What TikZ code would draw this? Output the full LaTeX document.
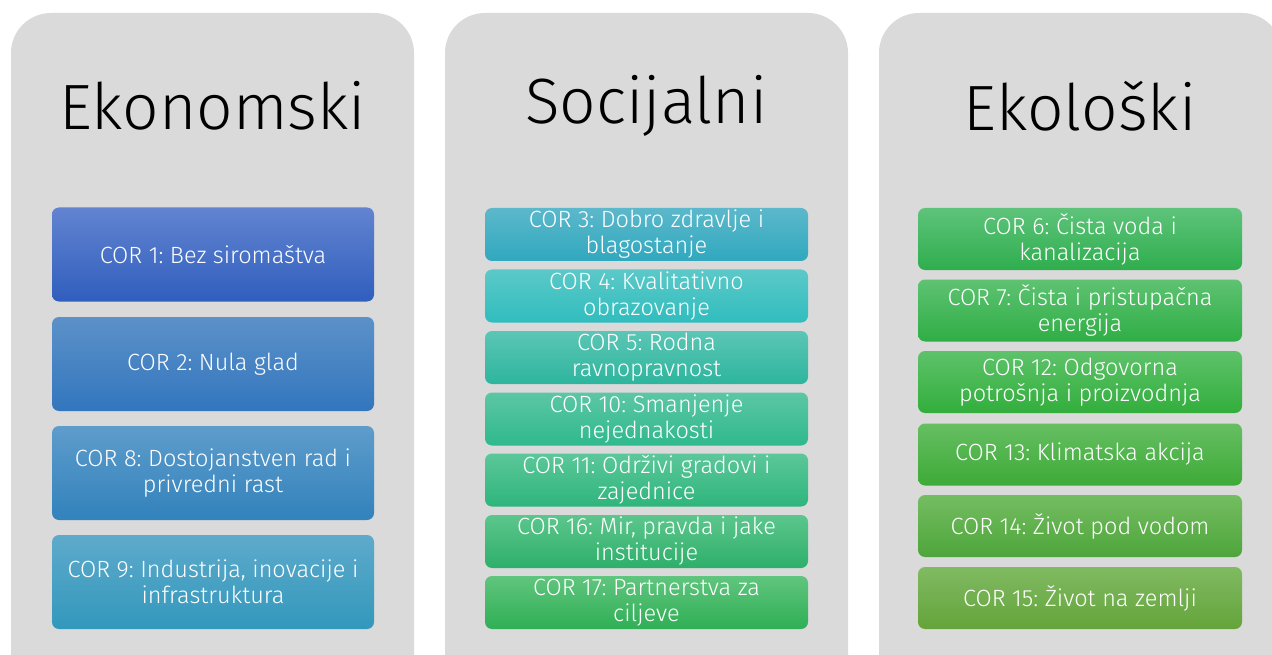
\documentclass[tikz,border=0pt]{standalone}
\usepackage{fontspec}
\setmainfont{Fira Sans}[UprightFont=* Light]
\frenchspacing
\begin{document}
\begin{tikzpicture}[x=1pt,y=-1pt,
  panel/.style={fill=panelgrey, draw=none, rounded corners=40pt},
  title/.style={font=\fontsize{64}{70}\selectfont, text=black, anchor=center},
  cor/.style={rounded corners=7pt, text=white, align=center, inner sep=0pt,
    font=\fontsize{23.5}{26}\selectfont, draw=none},
  ebox/.style={cor, minimum width=322pt, minimum height=94pt},
  sbox/.style={cor, minimum width=323pt, minimum height=53pt},
  kbox/.style={cor, minimum width=324pt, minimum height=62pt}]
\definecolor{panelgrey}{HTML}{DADADA}
\useasboundingbox (0,0) rectangle (1272,655);
\clip (0,0) rectangle (1272,655);
\fill[white] (0,0) rectangle (1272,655);
\path[panel] (11,13) rectangle (414,700);
\path[panel] (445,13) rectangle (848,700);
\path[panel] (879,13) rectangle (1282,700);
\node[title] (t1) at (212.5,106) {Ekonomski};
\node[title] (t2) at (646.5,106) {Socijalni};
\node[title] (t3) at (1080,106) {Ekološki};
% Ekonomski
\node[ebox, top color={rgb,255:red,98;green,132;blue,208}, bottom color={rgb,255:red,48;green,94;blue,190}] (c1) at (213,254.5) {COR 1: Bez siromaštva};
\node[ebox, top color={rgb,255:red,92;green,145;blue,201}, bottom color={rgb,255:red,50;green,118;blue,190}] (c2) at (213,364) {COR 2: Nula glad};
\node[ebox, top color={rgb,255:red,94;green,156;blue,203}, bottom color={rgb,255:red,50;green,130;blue,188}] (c8) at (213,473) {COR 8: Dostojanstven rad i\\privredni rast};
\node[ebox, top color={rgb,255:red,94;green,170;blue,203}, bottom color={rgb,255:red,50;green,152;blue,188}] (c9) at (213,582) {COR 9: Industrija, inovacije i\\infrastruktura};
% Socijalni
\node[sbox, top color={rgb,255:red,92;green,184;blue,203}, bottom color={rgb,255:red,48;green,168;blue,190}] (c3) at (646.5,234.5) {COR 3: Dobro zdravlje i\\blagostanje};
\node[sbox, top color={rgb,255:red,92;green,200;blue,200}, bottom color={rgb,255:red,48;green,189;blue,190}] (c4) at (646.5,296) {COR 4: Kvalitativno\\obrazovanje};
\node[sbox, top color={rgb,255:red,92;green,198;blue,181}, bottom color={rgb,255:red,45;green,181;blue,158}] (c5) at (646.5,357.5) {COR 5: Rodna\\ravnopravnost};
\node[sbox, top color={rgb,255:red,92;green,198;blue,165}, bottom color={rgb,255:red,47;green,185;blue,140}] (c10) at (646.5,419) {COR 10: Smanjenje\\nejednakosti};
\node[sbox, top color={rgb,255:red,92;green,199;blue,154}, bottom color={rgb,255:red,46;green,181;blue,124}] (c11) at (646.5,480) {COR 11: Održivi gradovi i\\zajednice};
\node[sbox, top color={rgb,255:red,92;green,198;blue,140}, bottom color={rgb,255:red,46;green,175;blue,106}] (c16) at (646.5,541.5) {COR 16: Mir, pravda i jake\\institucije};
\node[sbox, top color={rgb,255:red,96;green,197;blue,126}, bottom color={rgb,255:red,47;green,175;blue,85}] (c17) at (646.5,602.5) {COR 17: Partnerstva za\\ciljeve};
% Ekoloski
\node[kbox, top color={rgb,255:red,94;green,195;blue,122}, bottom color={rgb,255:red,47;green,174;blue,78}] (c6) at (1080,239) {COR 6: Čista voda i\\kanalizacija};
\node[kbox, top color={rgb,255:red,94;green,194;blue,114}, bottom color={rgb,255:red,47;green,174;blue,69}] (c7) at (1080,310.5) {COR 7: Čista i pristupačna\\energija};
\node[kbox, top color={rgb,255:red,94;green,194;blue,106}, bottom color={rgb,255:red,50;green,174;blue,60}] (c12) at (1080,382) {COR 12: Odgovorna\\potrošnja i proizvodnja};
\node[kbox, top color={rgb,255:red,102;green,191;blue,98}, bottom color={rgb,255:red,61;green,170;blue,55}] (c13) at (1080,454.5) {COR 13: Klimatska akcija};
\node[kbox, top color={rgb,255:red,116;green,189;blue,98}, bottom color={rgb,255:red,78;green,165;blue,58}] (c14) at (1080,526) {COR 14: Život pod vodom};
\node[kbox, top color={rgb,255:red,128;green,186;blue,98}, bottom color={rgb,255:red,100;green,164;blue,58}] (c15) at (1080,598) {COR 15: Život na zemlji};
\end{tikzpicture}
\end{document}
